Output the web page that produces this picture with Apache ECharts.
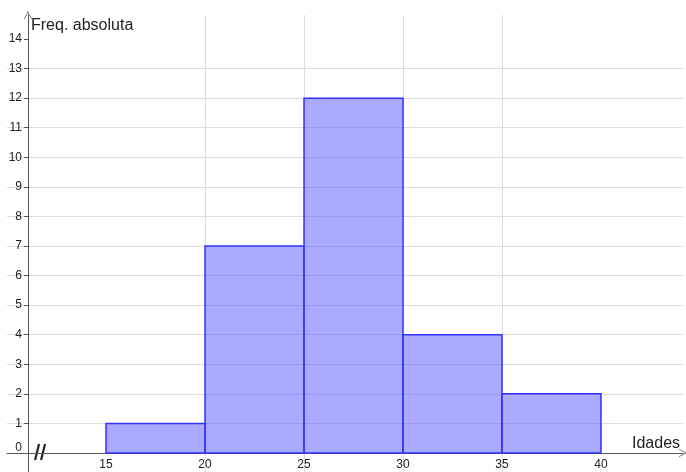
<!DOCTYPE html>
<html>
<head>
<meta charset="utf-8">
<script src="https://cdn.jsdelivr.net/npm/echarts@6/dist/echarts.min.js"></script>
<style>
  html, body { margin: 0; padding: 0; background: #fff; }
  #chart { width: 686px; height: 472px; }
</style>
</head>
<body>
<div id="chart"></div>
<script>
// histogram classes (idades) and absolute frequencies
const binStarts = [15, 20, 25, 30, 35];
const binEnds = [20, 25, 30, 35, 40];
const freqs = [1, 7, 12, 4, 2];
const xTicks = [15, 20, 25, 30, 35, 40];
const yTicks = [0, 1, 2, 3, 4, 5, 6, 7, 8, 9, 10, 11, 12, 13, 14];

const font = 'Liberation Sans, Arial, sans-serif';
const axisColor = '#555';
const gridColor = '#dcdcdc';
// open arrow head (GeoGebra style)
const chevron = 'path://M0,10 L5,0 L10,10 L9,10 L5,2 L1,10 Z';

const bars = binStarts.map((s, i) => [s, binEnds[i], freqs[i]]);

const chart = echarts.init(document.getElementById('chart'));

chart.setOption({
    animation: false,
    grid: { left: 7, right: 3, top: 15, bottom: 0, outerBoundsMode: 'none' },
    xAxis: {
        type: 'value',
        min: 10,
        max: 10 + 676 / 19.8,
        name: 'Idades',
        nameLocation: 'end',
        nameGap: -51,
        nameTextStyle: {
            fontFamily: font, fontSize: 16, color: '#222',
            align: 'left', verticalAlign: 'bottom', padding: [0, 0, 1, 0]
        },
        axisLine: {
            onZero: true,
            symbol: ['none', chevron],
            symbolSize: [8, 8],
            lineStyle: { color: axisColor, width: 1 }
        },
        axisTick: { show: false, customValues: xTicks },
        // labels are laid out from the grid's bottom edge, pulled up to sit under the zero line
        axisLabel: {
            show: true, customValues: xTicks, hideOverlap: false,
            fontFamily: font, fontSize: 12, lineHeight: 12, color: '#222', margin: -13
        },
        splitLine: { show: true, showMinLine: false, showMaxLine: false, lineStyle: { color: gridColor } }
    },
    yAxis: {
        type: 'value',
        min: -19 / 29.57,
        max: 438 / 29.57,
        offset: -21,
        name: 'Freq. absoluta',
        nameLocation: 'end',
        nameGap: -3,
        nameTextStyle: {
            fontFamily: font, fontSize: 16, color: '#222',
            align: 'left', verticalAlign: 'top', padding: [0, 0, 0, 3]
        },
        axisLine: {
            show: true,
            onZero: false,
            symbol: ['none', chevron],
            symbolSize: [8, 8],
            lineStyle: { color: axisColor, width: 1 }
        },
        axisTick: { show: true, length: 4, customValues: yTicks, lineStyle: { color: axisColor } },
        axisLabel: {
            customValues: yTicks,
            fontFamily: font, fontSize: 12, color: '#222', margin: 6,
            formatter: v => v === 0 ? '{z|0}' : String(v),
            rich: { z: { fontFamily: font, fontSize: 12, color: '#222', padding: [0, 0, 11, 0] } }
        },
        splitLine: { show: true, showMinLine: false, showMaxLine: false, lineStyle: { color: gridColor } }
    },
    series: [{
        type: 'custom',
        data: bars,
        encode: { x: [0, 1], y: 2 },
        renderItem: function (params, api) {
            const p0 = api.coord([api.value(0), 0]);
            const p1 = api.coord([api.value(1), api.value(2)]);
            return {
                type: 'rect',
                shape: { x: p0[0], y: p1[1], width: p1[0] - p0[0], height: p0[1] - p1[1] },
                style: { fill: 'rgba(85,85,255,0.5)', stroke: '#3333ff', lineWidth: 1.5 }
            };
        }
    }]
});

// axis break mark "//" near the origin
const c = chart.convertToPixel({ xAxisIndex: 0, yAxisIndex: 0 }, [11.72, 0]);
chart.setOption({
    graphic: [0, 6].map(dx => ({
        type: 'line',
        shape: { x1: c[0] - 6 + dx, y1: c[1] + 7, x2: c[0] - 2 + dx, y2: c[1] - 9 },
        style: { stroke: '#222', lineWidth: 2.2 }
    }))
});
</script>
</body>
</html>
